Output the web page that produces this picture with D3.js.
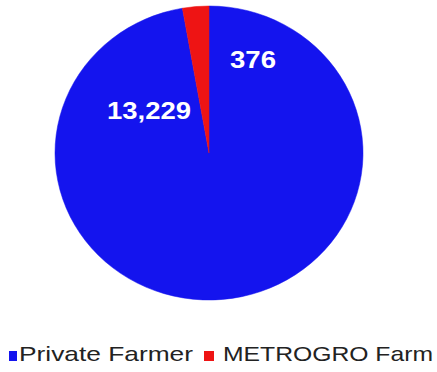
<!DOCTYPE html>
<html>
<head>
<meta charset="utf-8">
<script src="https://cdn.jsdelivr.net/npm/d3@7"></script>
<style>
  html, body { margin: 0; padding: 0; background: #ffffff; }
  svg { display: block; }
</style>
</head>
<body>
<svg id="chart" width="437" height="372"></svg>
<script>
// Farm counts by ownership type
const categories = ["Private Farmer", "METROGRO Farm"];
const values = [13229, 376];
const colors = ["#1414ee", "#ee1414"];
const valueLabels = ["13,229", "376"];

const svg = d3.select("#chart");

// slightly wider than tall
const cx = 209, cy = 153, ry = 147, sx = 154 / 147;

const data = categories.map((c, i) => ({ name: c, value: values[i], color: colors[i], label: valueLabels[i] }));

const pie = d3.pie().sort(null).value(d => d.value);
const arc = d3.arc().innerRadius(0).outerRadius(ry);
const arcs = pie(data);

const g = svg.append("g").attr("transform", `translate(${cx},${cy}) scale(${sx},1)`);
g.selectAll("path.slice")
  .data(arcs)
  .enter().append("path")
  .attr("class", "slice")
  .attr("d", arc)
  .attr("fill", d => d.data.color)
  .attr("stroke", d => d.data.color)
  .attr("stroke-width", 0.5);

// value labels, white bold
const labelPos = [
  { x: 149, y: 119, w: 84 },  // 13,229
  { x: 253, y: 68, w: 46 }    // 376
];
svg.selectAll("text.val")
  .data(arcs)
  .enter().append("text")
  .attr("class", "val")
  .attr("x", (d, i) => labelPos[i].x)
  .attr("y", (d, i) => labelPos[i].y)
  .attr("text-anchor", "middle")
  .attr("textLength", (d, i) => labelPos[i].w)
  .attr("lengthAdjust", "spacingAndGlyphs")
  .attr("font-family", "Liberation Sans, Arial, sans-serif")
  .attr("font-weight", "bold")
  .attr("font-size", 23)
  .attr("fill", "#ffffff")
  .text(d => d.data.label);

// legend
const legendItems = [
  { sq: 9, sw: 8, tx: 19, tw: 174 },
  { sq: 204, sw: 10, tx: 223, tw: 210 }
];
const leg = svg.selectAll("g.leg")
  .data(data)
  .enter().append("g")
  .attr("class", "leg");
leg.append("rect")
  .attr("x", (d, i) => legendItems[i].sq)
  .attr("y", 351)
  .attr("width", (d, i) => legendItems[i].sw)
  .attr("height", 10)
  .attr("fill", d => d.color);
leg.append("text")
  .attr("x", (d, i) => legendItems[i].tx)
  .attr("y", 361)
  .attr("textLength", (d, i) => legendItems[i].tw)
  .attr("lengthAdjust", "spacingAndGlyphs")
  .attr("font-family", "Liberation Sans, Arial, sans-serif")
  .attr("font-size", 21)
  .attr("fill", "#222222")
  .text(d => d.name);
</script>
</body>
</html>
